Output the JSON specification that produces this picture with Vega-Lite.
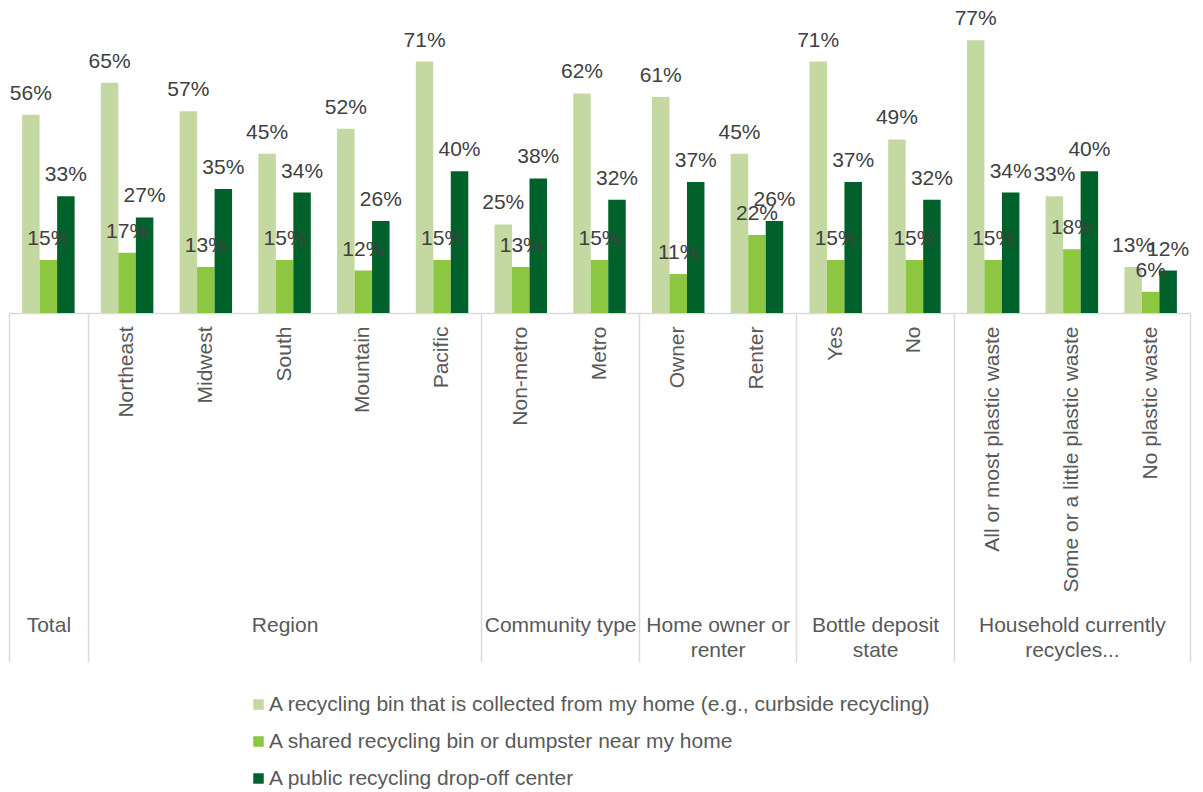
{
  "$schema": "https://vega.github.io/schema/vega-lite/v6.json",
  "width": 1181,
  "height": 301,
  "autosize": {"type": "none"},
  "padding": {"left": 9, "top": 12, "right": 13, "bottom": 479},
  "background": "white",
  "config": {"view": {"stroke": null}, "font": "Liberation Sans"},
  "data": {"values": [
    {"cat": "Total", "series": "A recycling bin that is collected from my home (e.g., curbside recycling)", "value": 0.56},
    {"cat": "Total", "series": "A shared recycling bin or dumpster near my home", "value": 0.15},
    {"cat": "Total", "series": "A public recycling drop-off center", "value": 0.33},
    {"cat": "Northeast", "series": "A recycling bin that is collected from my home (e.g., curbside recycling)", "value": 0.65},
    {"cat": "Northeast", "series": "A shared recycling bin or dumpster near my home", "value": 0.17},
    {"cat": "Northeast", "series": "A public recycling drop-off center", "value": 0.27},
    {"cat": "Midwest", "series": "A recycling bin that is collected from my home (e.g., curbside recycling)", "value": 0.57},
    {"cat": "Midwest", "series": "A shared recycling bin or dumpster near my home", "value": 0.13},
    {"cat": "Midwest", "series": "A public recycling drop-off center", "value": 0.35},
    {"cat": "South", "series": "A recycling bin that is collected from my home (e.g., curbside recycling)", "value": 0.45},
    {"cat": "South", "series": "A shared recycling bin or dumpster near my home", "value": 0.15},
    {"cat": "South", "series": "A public recycling drop-off center", "value": 0.34},
    {"cat": "Mountain", "series": "A recycling bin that is collected from my home (e.g., curbside recycling)", "value": 0.52},
    {"cat": "Mountain", "series": "A shared recycling bin or dumpster near my home", "value": 0.12},
    {"cat": "Mountain", "series": "A public recycling drop-off center", "value": 0.26},
    {"cat": "Pacific", "series": "A recycling bin that is collected from my home (e.g., curbside recycling)", "value": 0.71},
    {"cat": "Pacific", "series": "A shared recycling bin or dumpster near my home", "value": 0.15},
    {"cat": "Pacific", "series": "A public recycling drop-off center", "value": 0.40},
    {"cat": "Non-metro", "series": "A recycling bin that is collected from my home (e.g., curbside recycling)", "value": 0.25},
    {"cat": "Non-metro", "series": "A shared recycling bin or dumpster near my home", "value": 0.13},
    {"cat": "Non-metro", "series": "A public recycling drop-off center", "value": 0.38},
    {"cat": "Metro", "series": "A recycling bin that is collected from my home (e.g., curbside recycling)", "value": 0.62},
    {"cat": "Metro", "series": "A shared recycling bin or dumpster near my home", "value": 0.15},
    {"cat": "Metro", "series": "A public recycling drop-off center", "value": 0.32},
    {"cat": "Owner", "series": "A recycling bin that is collected from my home (e.g., curbside recycling)", "value": 0.61},
    {"cat": "Owner", "series": "A shared recycling bin or dumpster near my home", "value": 0.11},
    {"cat": "Owner", "series": "A public recycling drop-off center", "value": 0.37},
    {"cat": "Renter", "series": "A recycling bin that is collected from my home (e.g., curbside recycling)", "value": 0.45},
    {"cat": "Renter", "series": "A shared recycling bin or dumpster near my home", "value": 0.22},
    {"cat": "Renter", "series": "A public recycling drop-off center", "value": 0.26},
    {"cat": "Yes", "series": "A recycling bin that is collected from my home (e.g., curbside recycling)", "value": 0.71},
    {"cat": "Yes", "series": "A shared recycling bin or dumpster near my home", "value": 0.15},
    {"cat": "Yes", "series": "A public recycling drop-off center", "value": 0.37},
    {"cat": "No", "series": "A recycling bin that is collected from my home (e.g., curbside recycling)", "value": 0.49},
    {"cat": "No", "series": "A shared recycling bin or dumpster near my home", "value": 0.15},
    {"cat": "No", "series": "A public recycling drop-off center", "value": 0.32},
    {"cat": "All or most plastic waste", "series": "A recycling bin that is collected from my home (e.g., curbside recycling)", "value": 0.77},
    {"cat": "All or most plastic waste", "series": "A shared recycling bin or dumpster near my home", "value": 0.15},
    {"cat": "All or most plastic waste", "series": "A public recycling drop-off center", "value": 0.34},
    {"cat": "Some or a little plastic waste", "series": "A recycling bin that is collected from my home (e.g., curbside recycling)", "value": 0.33},
    {"cat": "Some or a little plastic waste", "series": "A shared recycling bin or dumpster near my home", "value": 0.18},
    {"cat": "Some or a little plastic waste", "series": "A public recycling drop-off center", "value": 0.40},
    {"cat": "No plastic waste", "series": "A recycling bin that is collected from my home (e.g., curbside recycling)", "value": 0.13},
    {"cat": "No plastic waste", "series": "A shared recycling bin or dumpster near my home", "value": 0.06},
    {"cat": "No plastic waste", "series": "A public recycling drop-off center", "value": 0.12}
  ]},
  "layer": [
    {
      "mark": {"type": "bar"},
      "encoding": {
        "x": {
          "field": "cat", "type": "nominal",
          "scale": {"domain": ["Total", "Northeast", "Midwest", "South", "Mountain", "Pacific", "Non-metro", "Metro", "Owner", "Renter", "Yes", "No", "All or most plastic waste", "Some or a little plastic waste", "No plastic waste"], "paddingInner": 0, "paddingOuter": 0},
          "axis": {
            "title": null, "labelAngle": -90, "labelFontSize": 21, "labelColor": "#595959",
            "labelPadding": 13, "ticks": false, "domainColor": "#d9d9d9", "domainWidth": 1.5,
            "labelLimit": 400, "labelOverlap": false,
            "labelExpr": "datum.value == 'Total' ? '' : datum.label"
          }
        },
        "xOffset": {
          "field": "series", "type": "nominal",
          "scale": {"domain": ["A recycling bin that is collected from my home (e.g., curbside recycling)", "A shared recycling bin or dumpster near my home", "A public recycling drop-off center"], "paddingInner": 0, "paddingOuter": 0.75}
        },
        "y": {"field": "value", "type": "quantitative", "scale": {"domain": [0, 0.85]}, "axis": null},
        "color": {
          "field": "series", "type": "nominal",
          "scale": {"domain": ["A recycling bin that is collected from my home (e.g., curbside recycling)", "A shared recycling bin or dumpster near my home", "A public recycling drop-off center"], "range": ["#c4d8a2", "#8dc641", "#00622a"]},
          "legend": {
            "title": null, "orient": "none", "legendX": 239, "legendY": 682, "direction": "vertical",
            "symbolType": "square", "symbolSize": 110, "symbolStrokeWidth": 0,
            "labelFontSize": 21, "labelColor": "#595959", "rowPadding": 15, "labelLimit": 0, "labelOffset": 0
          }
        }
      }
    },
    {
      "mark": {"type": "text", "fontSize": 21, "color": "#404040", "baseline": "alphabetic", "dy": -15},
      "encoding": {
        "x": {
          "field": "cat", "type": "nominal",
          "scale": {"domain": ["Total", "Northeast", "Midwest", "South", "Mountain", "Pacific", "Non-metro", "Metro", "Owner", "Renter", "Yes", "No", "All or most plastic waste", "Some or a little plastic waste", "No plastic waste"], "paddingInner": 0, "paddingOuter": 0},
          "axis": {
            "title": null, "orient": "bottom", "labelAngle": 0, "labelAlign": "center", "labelBaseline": "top",
            "labelFontSize": 21, "labelColor": "#595959", "labelLineHeight": 25,
            "labelLimit": 400, "labelOverlap": false, "domain": false,
            "labelExpr": "datum.value == 'Total' ? 'Total' : datum.value == 'South' ? 'Region' : datum.value == 'Metro' ? 'Community type' : datum.value == 'Renter' ? ['Home owner or', 'renter'] : datum.value == 'No' ? ['Bottle deposit', 'state'] : datum.value == 'Some or a little plastic waste' ? ['Household currently', 'recycles...'] : ''",
            "labelOffset": {"condition": {"test": "indexof(['Metro', 'Renter', 'No'], datum.value) >= 0", "value": -39.37}, "value": 0},
            "tickBand": "extent", "tickSize": 349, "tickColor": "#d9d9d9", "tickWidth": 1.5,
            "tickOpacity": {"condition": {"test": "datum.extra || indexof(['Total', 'Pacific', 'Metro', 'Renter', 'No', 'No plastic waste'], datum.value) >= 0", "value": 1}, "value": 0},
            "labelPadding": -48
          }
        },
        "xOffset": {
          "field": "series", "type": "nominal",
          "scale": {"domain": ["A recycling bin that is collected from my home (e.g., curbside recycling)", "A shared recycling bin or dumpster near my home", "A public recycling drop-off center"], "paddingInner": 0, "paddingOuter": 0.75}
        },
        "y": {"field": "value", "type": "quantitative", "scale": {"domain": [0, 0.85]}, "axis": null},
        "text": {"field": "value", "type": "quantitative", "format": ".0%"}
      }
    }
  ],
  "resolve": {"scale": {"x": "independent"}}
}
